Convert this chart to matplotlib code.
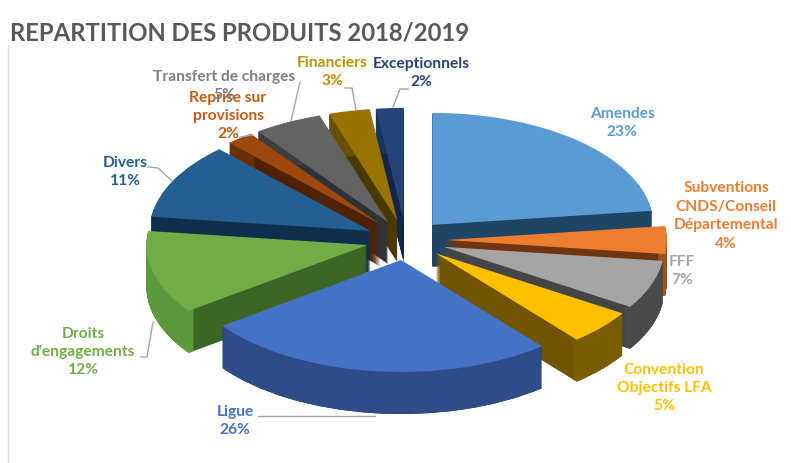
import numpy as np
import matplotlib
matplotlib.use("Agg")
import matplotlib.pyplot as plt
from matplotlib.lines import Line2D

# Data
names = ["Amendes", "Subventions\nCNDS/Conseil\nDépartemental", "FFF", "Convention\nObjectifs LFA",
         "Ligue", "Droits\nd'engagements", "Divers", "Reprise sur\nprovisions",
         "Transfert de charges", "Financiers", "Exceptionnels"]
values = [23, 4, 7, 5, 26, 12, 11, 2, 5, 3, 2]

# Colours
top_colors = ["#5B9BD5", "#ED7D31", "#A5A5A5", "#FFC000", "#4472C4", "#70AD47",
              "#255E91", "#9E480E", "#636363", "#997300", "#264478"]
cut_colors = ["#1F4565", "#6E3510", "#454545", "#705400", "#1F3864", "#3C6526",
              "#0F2E4C", "#4F2206", "#2F3338", "#4A3800", "#11264A"]
rim_colors = ["#1F4565", "#A3501A", "#4A4A4A", "#7A5C00", "#2E4C87", "#5A9A3C",
              "#0F2E4C", "#6A300A", "#3E3E3E", "#665000", "#1A3560"]
text_colors = ["#5B9BD5", "#ED7D31", "#A5A5A5", "#FFC000", "#4472C4", "#70AD47",
               "#255E91", "#C55A11", "#7F7F7F", "#BF9000", "#264478"]

# Pixel layout of the reference
W, H = 791, 463
CX, CY = 406, 240
RX, RY = 221, 112
DEPTH = 42
EXPLODE = 0.18

label_xy = [(622, 123), (726, 216), (682, 271), (664, 388), (235, 421), (83, 352),
            (125, 172), (228, 116), (224, 86), (332, 72), (421, 73)]
leaders = [[(300, 82), (291, 121)],
           [(345, 88), (352, 88), (356, 110)],
           [(408, 89), (400, 89), (393, 107)],
           [(240, 137), (253, 135)],
           [(148, 167), (158, 168), (171, 180)],
           [(141, 357), (147, 357), (153, 322)],
           [(258, 416), (375, 416)]]

plt.rcParams["font.family"] = ["Lato", "DejaVu Sans"]

fig = plt.figure(figsize=(W / 100, H / 100), dpi=100)
ax = fig.add_axes([0, 0, 1, 1])

# Back slices get painted first
fracs = np.cumsum(values) - np.array(values) / 2
mids = np.radians(fracs / sum(values) * 360)
rank = np.argsort(np.argsort(-np.cos(mids)))

explode = [EXPLODE] * len(values)
pie_args = dict(explode=explode, startangle=90, counterclock=False, normalize=True)

# Extruded sides, one thin pie per pixel of depth
for d in range(DEPTH, 0, -1):
    off = -d / RY
    cuts, _ = ax.pie(values, colors=cut_colors, center=(0, off),
                     wedgeprops=dict(linewidth=0), **pie_args)
    rims, _ = ax.pie(values, colors=rim_colors, center=(0, off),
                     wedgeprops=dict(linewidth=0, width=0.03), **pie_args)
    for i in range(len(values)):
        cuts[i].set_zorder(rank[i] * 10 + 1)
        rims[i].set_zorder(rank[i] * 10 + 2)

tops, _ = ax.pie(values, colors=top_colors, wedgeprops=dict(linewidth=0), **pie_args)
for i in range(len(values)):
    tops[i].set_zorder(rank[i] * 10 + 3)

# pie forces equal aspect, the tilt comes from stretching the axes
ax.set_aspect("auto")
ax.set_xlim((0 - CX) / RX, (W - CX) / RX)
ax.set_ylim((CY - H) / RY, CY / RY)
ax.axis("off")


def fx(x):
    return x / W


def fy(y):
    return 1 - y / H


# Labels
for i in range(len(names)):
    x, y = label_xy[i]
    fig.text(fx(x), fy(y), "{}\n{}%".format(names[i], values[i]), color=text_colors[i],
             fontsize=11.2, fontweight="bold", ha="center", va="center",
             linespacing=1.4, zorder=20)

# Leader lines
for pts in leaders:
    xs = [fx(p[0]) for p in pts]
    ys = [fy(p[1]) for p in pts]
    fig.add_artist(Line2D(xs, ys, color="#A6A6A6", linewidth=1))

# Faint chart border on the left
fig.add_artist(Line2D([fx(8), fx(8)], [fy(45), fy(463)], color="#D9D9D9", linewidth=1))

fig.text(fx(10), fy(33), "REPARTITION DES PRODUITS 2018/2019", color="#595959",
         fontsize=17.2, fontweight="bold", ha="left", va="center")

fig.savefig("out.png", dpi=100)
